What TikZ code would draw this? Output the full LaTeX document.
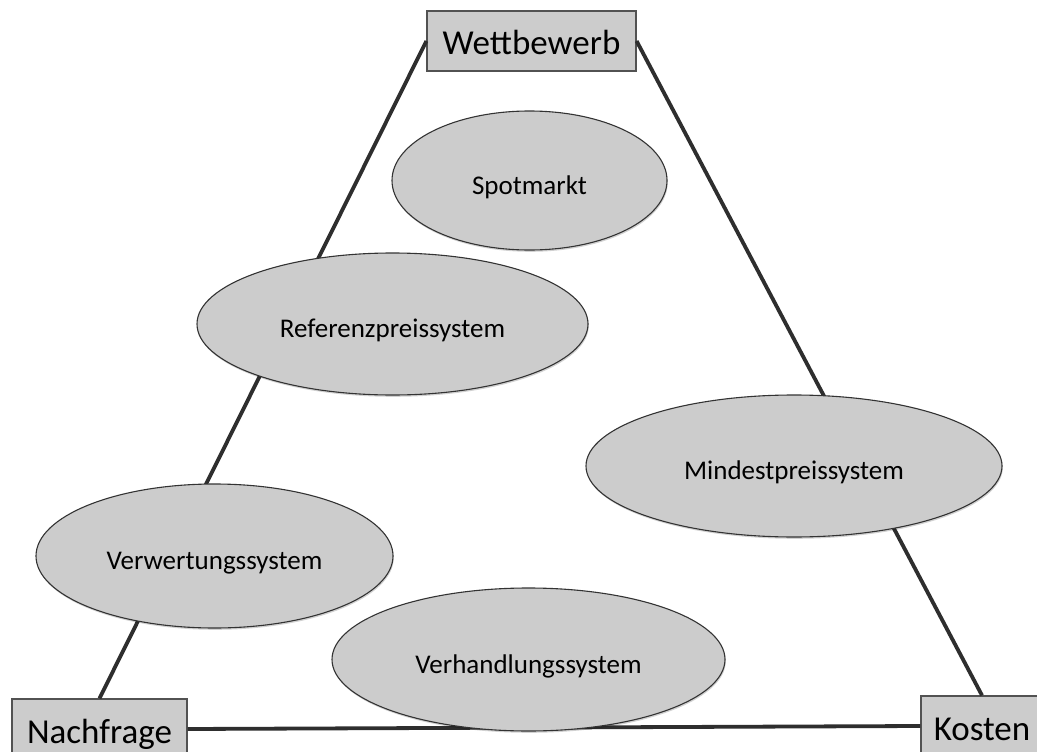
\documentclass[tikz,border=0pt]{standalone}
\usepackage{fontspec}
\setmainfont{Carlito}
\usetikzlibrary{shapes.geometric,shadows}
\definecolor{boxfill}{HTML}{CCCCCC}
\definecolor{edgecol}{HTML}{333333}
\definecolor{linecol}{HTML}{2E2E2E}
\tikzset{
  cornerbox/.style={draw=edgecol!85!white, line width=1.2pt, fill=boxfill, rectangle,
    inner sep=0pt, minimum height=60pt, text height=28pt, text depth=0pt,
    font=\fontsize{35pt}{40pt}\selectfont},
  sysell/.style={draw=edgecol, line width=1.1pt, fill=boxfill, ellipse,
    inner sep=0pt, text height=27pt, text depth=0pt,
    font=\fontsize{27pt}{31pt}\selectfont,
    drop shadow={shadow xshift=0.8pt, shadow yshift=-1.8pt, opacity=0.18, fill=black}},
  side/.style={draw=linecol, line width=3.8pt}
}
\begin{document}
\begin{tikzpicture}[x=1pt,y=-1pt]
\useasboundingbox (0,0) rectangle (1037,752);
\clip (0,0) rectangle (1037,752);
\fill[white] (0,0) rectangle (1037,752);
% corner boxes
\node[cornerbox, minimum width=209pt] (wett) at (531.5,41) {Wettbewerb};
\node[cornerbox, minimum width=175pt] (nach) at (99.5,729) {Nachfrage};
\node[cornerbox, minimum width=122pt] (kost) at (982,726) {Kosten};
% triangle sides
\draw[side] (wett.west) -- (nach.north);
\draw[side] (wett.east) -- (kost.north);
\draw[side] (nach.east) -- (kost.west);
% ellipses
\node[sysell, minimum width=275pt, minimum height=139pt] (spot) at (529.5,180.5) {Spotmarkt};
\node[sysell, minimum width=391pt, minimum height=142pt] (ref) at (392.5,324) {Referenzpreissystem};
\node[sysell, minimum width=416pt, minimum height=142pt] (mind) at (794,466) {Mindestpreissystem};
\node[sysell, minimum width=357pt, minimum height=144pt] (verw) at (214.5,556) {Verwertungssystem};
\node[sysell, minimum width=393pt, minimum height=143pt] (verh) at (528.5,659.5) {Verhandlungssystem};
\end{tikzpicture}
\end{document}
